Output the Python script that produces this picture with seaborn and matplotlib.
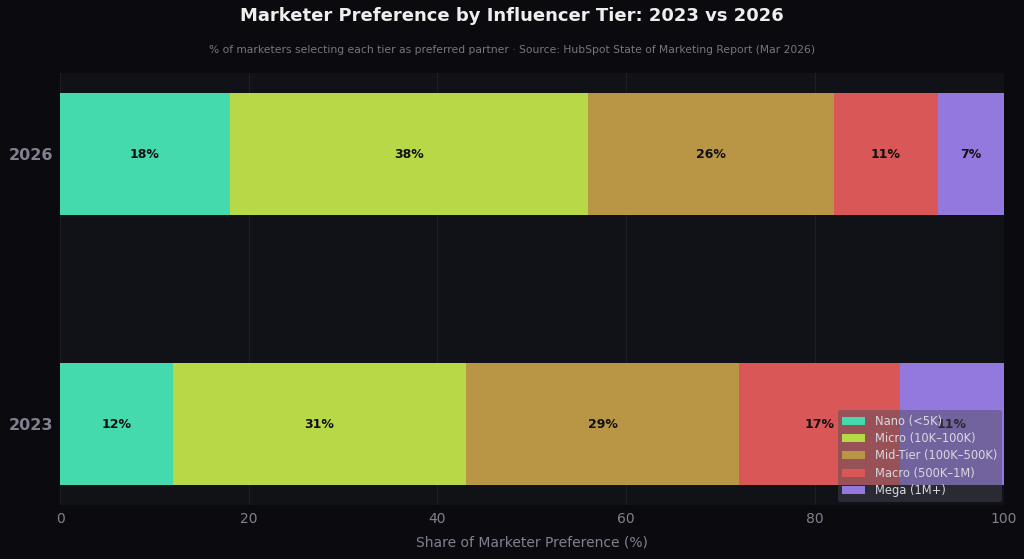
import numpy as np
import pandas as pd
import matplotlib
matplotlib.use('Agg')
import matplotlib.pyplot as plt
import seaborn as sns

# data
years = ['2026', '2023']
tiers = ['Nano (<5K)', 'Micro (10K–100K)', 'Mid-Tier (100K–500K)', 'Macro (500K–1M)', 'Mega (1M+)']
share_2026 = [18, 38, 26, 11, 7]
share_2023 = [12, 31, 29, 17, 11]
colors = ['#45d9ae', '#b8d947', '#b89646', '#d95757', '#9379dd']

bg = '#0b0b0f'
panel = '#111217'
muted = '#82808f'

sns.set_theme(style='dark')
plt.rcParams['font.family'] = ['DejaVu Sans']

fig = plt.figure(figsize=(10.24, 5.59), dpi=100, facecolor=bg)
ax = fig.add_axes([0.0586, 0.0966, 0.9215, 0.7725])
ax.set_facecolor(panel)

vals = np.array([share_2026, share_2023])
cum = vals.cumsum(axis=1)

# stack by overlaying cumulative bars, largest first
for i in range(len(tiers) - 1, -1, -1):
    df = pd.DataFrame({'year': years, 'cum': cum[:, i]})
    sns.barplot(data=df, x='cum', y='year', orient='h', color=colors[i],
                width=0.45, saturation=1, ax=ax, label=tiers[i], linewidth=0)

# labels in segment centres
for r, yr in enumerate(years):
    left = 0
    for i, v in enumerate(vals[r]):
        ax.text(left + v / 2, r, f'{v}%', ha='center', va='center',
                fontsize=9, fontweight='bold', color='#111111')
        left += v

ax.set_xlim(0, 100)
ax.set_ylim(1.3, -0.3)
ax.set_xticks([0, 20, 40, 60, 80, 100])
ax.grid(axis='x', color='#1e1f26', linewidth=0.8)
ax.grid(axis='y', visible=False)
for s in ax.spines.values():
    s.set_visible(False)
ax.tick_params(axis='x', colors=muted, labelsize=10, length=0, pad=5)
ax.tick_params(axis='y', colors=muted, labelsize=11.5, length=0, pad=5)
for t in ax.get_yticklabels():
    t.set_fontweight('bold')
ax.set_ylabel('')
ax.set_xlabel('Share of Marketer Preference (%)', color=muted, fontsize=10, labelpad=7)

h, l = ax.get_legend_handles_labels()
leg = ax.legend(h[::-1], l[::-1], loc='lower right', fontsize=8.3, frameon=True,
                facecolor='#4a4a55', edgecolor='none', framealpha=0.45,
                labelcolor='#d8d8e0', handlelength=2.0, labelspacing=0.38,
                borderaxespad=0.5, bbox_to_anchor=(1.004, -0.006))

fig.text(0.5, 0.971, 'Marketer Preference by Influencer Tier: 2023 vs 2026',
         ha='center', va='center', fontsize=13, fontweight='bold', color='#eeeeee')
fig.text(0.5, 0.91, '% of marketers selecting each tier as preferred partner · Source: HubSpot State of Marketing Report (Mar 2026)',
         ha='center', va='center', fontsize=7.75, color='#77757f')

fig.savefig('out.png', dpi=100, facecolor=bg)
